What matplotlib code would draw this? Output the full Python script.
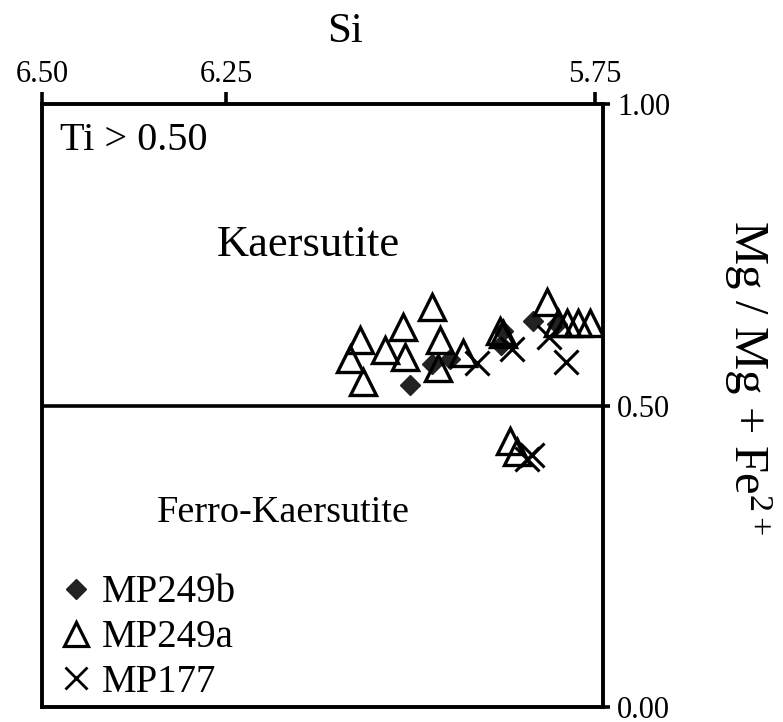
import matplotlib.pyplot as plt
from matplotlib.lines import Line2D

plt.rcParams['font.family'] = ['Liberation Serif', 'DejaVu Serif']
plt.rcParams['mathtext.fontset'] = 'custom'
plt.rcParams['mathtext.rm'] = 'Liberation Serif'
plt.rcParams['mathtext.it'] = 'Liberation Serif:italic'

# amphibole analyses: Si (apfu) vs Mg/(Mg+Fe2+)
si_249b = [6.001, 5.971, 5.947, 5.875, 5.878, 5.834, 5.802]
mg_249b = [0.534, 0.569, 0.578, 0.624, 0.600, 0.641, 0.636]

si_249a = [5.971, 6.010, 6.069, 6.082, 6.035, 6.008, 5.960, 6.065, 5.963, 5.929,
           5.879, 5.875, 5.815, 5.800, 5.788, 5.773, 5.757, 5.865, 5.856]
mg_249a = [0.663, 0.631, 0.608, 0.578, 0.592, 0.580, 0.608, 0.539, 0.562, 0.587,
           0.624, 0.618, 0.672, 0.637, 0.637, 0.637, 0.637, 0.441, 0.423]

si_177 = [5.910, 5.863, 5.812, 5.789, 5.842, 5.835]
mg_177 = [0.570, 0.593, 0.613, 0.572, 0.412, 0.418]

xticks = [6.50, 6.25, 5.75]
yticks = [0.0, 0.5, 1.0]

fig = plt.figure(figsize=(7.83, 7.22), dpi=100)
ax = fig.add_axes([0.0536, 0.0208, 0.7165, 0.835])

ax.plot(si_249b, mg_249b, linestyle='none', marker='D', ms=10,
        color='#222222', mec='#222222')
ax.plot(si_249a, mg_249a, linestyle='none', marker='^', ms=19,
        mfc='none', mec='black', mew=2.4)
ax.plot(si_177, mg_177, linestyle='none', marker='x', ms=17,
        color='black', mew=2.2)

ax.axhline(0.5, color='black', lw=2.6)

ax.set_xlim(6.50, 5.739)
ax.set_ylim(0, 1)

ax.xaxis.tick_top()
ax.set_xticks(xticks)
ax.set_xticklabels(['%.2f' % t for t in xticks])
ax.yaxis.tick_right()
ax.set_yticks(yticks)
ax.set_yticklabels(['%.2f' % t for t in yticks])
ax.tick_params(axis='x', direction='out', length=9, width=2.6, labelsize=22, pad=2)
ax.tick_params(axis='y', direction='out', length=5, width=2.6, labelsize=22, pad=5)
for s in ax.spines.values():
    s.set_linewidth(2.8)

ax.text(0.032, 0.940, 'Ti > 0.50', transform=ax.transAxes, fontsize=29,
        ha='left', va='center')
ax.text(0.474, 0.766, 'Kaersutite', transform=ax.transAxes, fontsize=32,
        ha='center', va='center')
ax.text(0.431, 0.323, 'Ferro-Kaersutite', transform=ax.transAxes, fontsize=27.5,
        ha='center', va='center')

fig.text(345 / 783, 1 - 32 / 722, 'Si', fontsize=31, ha='center', va='center')
fig.text(748 / 783, 1 - 378 / 722, 'Mg / Mg + Fe$^{2+}$', fontsize=35,
         rotation=-90, ha='center', va='center')

handles = [
    Line2D([], [], linestyle='none', marker='D', ms=10, color='#222222'),
    Line2D([], [], linestyle='none', marker='^', ms=17, mfc='none',
           mec='black', mew=2.3),
    Line2D([], [], linestyle='none', marker='x', ms=16, color='black', mew=2.0),
]
ax.legend(handles, ['MP249b', 'MP249a', 'MP177'], loc='lower left',
          frameon=False, fontsize=28, handletextpad=0.2, labelspacing=0.2,
          borderaxespad=0.0, borderpad=0.0, bbox_to_anchor=(0.03, 0.01),
          handlelength=0.9)

fig.savefig('out.png', dpi=100)
